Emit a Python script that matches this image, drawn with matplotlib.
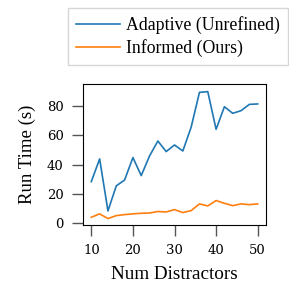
import matplotlib

matplotlib.use("Agg")

import matplotlib.pyplot as plt

num_distractors = [10, 12, 14, 16, 18, 20, 22, 24, 26, 28, 30, 32, 34, 36, 38, 40, 42, 44, 46, 48, 50]
adaptive_time = [28.4, 43.9, 8.4, 25.5, 29.5, 44.8, 32.5, 45.9, 56.1, 48.9, 53.4, 49.3, 65.5, 89.3, 89.8,
                 64.1, 79.5, 75.0, 76.8, 81.1, 81.4]
informed_time = [4.1, 6.4, 3.2, 5.2, 5.9, 6.4, 6.8, 7.0, 8.0, 7.7, 9.3, 7.3, 8.6, 13.2, 11.8,
                 15.5, 13.6, 12.0, 13.2, 12.7, 13.2]

plt.rcParams["font.family"] = ["Liberation Serif", "DejaVu Serif"]

fig = plt.figure(figsize=(2.89, 2.89), dpi=100)
ax = fig.add_axes([83 / 289, 1 - 225 / 289, (266 - 83) / 289, (225 - 84) / 289])

ax.plot(num_distractors, adaptive_time, color="#1f77b4", linewidth=1.2, label="Adaptive (Unrefined)")
ax.plot(num_distractors, informed_time, color="#ff7f0e", linewidth=1.2, label="Informed (Ours)")

ax.set_xlim(8, 52)
ax.set_ylim(-1.2, 95)
ax.set_xticks([10, 20, 30, 40, 50])
ax.set_yticks([0, 20, 40, 60, 80])
ax.tick_params(direction="out", length=8, width=1, color="#555555", labelsize=9.5, pad=6)
for label in ax.get_xticklabels() + ax.get_yticklabels():
    label.set_family("DejaVu Serif")
ax.set_xlabel("Num Distractors", fontsize=13.8, labelpad=6)
ax.set_ylabel("Run Time (s)", fontsize=13.5, labelpad=8)

fig.legend(loc="upper left", bbox_to_anchor=(68 / 289, 1 - 8 / 289), borderaxespad=0,
           fontsize=12.8, frameon=True, fancybox=False, edgecolor="#cccccc",
           handlelength=2.5, handletextpad=0.3, borderpad=0.45, labelspacing=0.3)

fig.savefig("out.png", dpi=100)
